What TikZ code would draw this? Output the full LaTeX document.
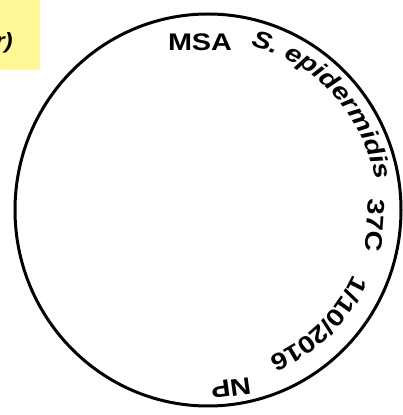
\documentclass[tikz,border=0pt]{standalone}
\usepackage{fontspec}
\setmainfont{Liberation Sans}
\usetikzlibrary{decorations.text}
\definecolor{notey}{RGB}{255,246,150}
\newcommand\labelfont{\fontsize{24}{28}\selectfont\bfseries}
\begin{document}
\begin{tikzpicture}[x=1pt,y=1pt,
  lbl/.style={font=\labelfont, inner sep=0pt},
  arctext/.style n args={2}{decorate, decoration={text effects along path, text={#1},
     text effects/.cd, text along path, fit text to path,
     characters={font=\labelfont#2, inner sep=0pt, anchor=base, xscale=1.2}}}]
\clip (0,0) rectangle (403,415);
\useasboundingbox (0,0) rectangle (403,415);
\fill[notey] (0,345) rectangle (40,415);
\node[lbl, font=\fontsize{22}{26}\selectfont\bfseries\itshape, anchor=base east, xscale=1.1] (note) at (13,366) {r)};
\coordinate (C) at (208,205);
\draw[line width=3pt] (C) ellipse[x radius=193, y radius=196];
\node[lbl, xscale=1.2] (msa) at (200,372.5) {MSA};
\node[lbl, rotate=-94, xscale=1.2] (temp) at (375,190) {37C};
\node[lbl, rotate=-172, xscale=1.2] (np) at (231,27) {NP};
\path[arctext={S. epidermidis}{\itshape}]
  ([shift={(75.5:170)}]C) arc[start angle=75.5, end angle=10, radius=170];
\path[arctext={1/10/2016}{}]
  ([shift={(-24:159)}]C) arc[start angle=-24, end angle=-67.5, radius=159];
\end{tikzpicture}
\end{document}
